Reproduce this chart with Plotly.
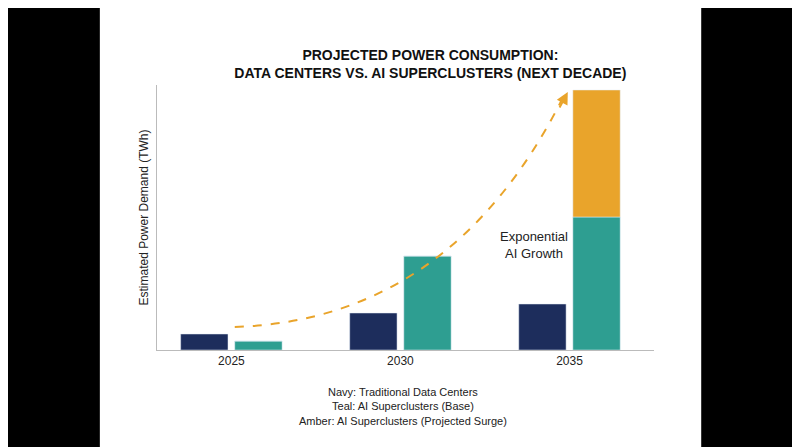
import plotly.graph_objects as go

years = ["2025", "2030", "2035"]
traditional = [16, 37, 46]
ai_base = [9, 94, 133]
ai_surge = [0, 0, 127]

navy = "#1d2d5c"
teal = "#2e9e91"
amber = "#e9a42b"

fig = go.Figure()
fig.add_bar(x=years, y=traditional, marker_color=navy, width=0.28, offset=-0.30,
            name="Traditional Data Centers")
fig.add_bar(x=years, y=ai_base, marker_color=teal, width=0.28, offset=0.02,
            name="AI Superclusters (Base)")
fig.add_bar(x=years, y=ai_surge, base=ai_base, marker_color=amber, width=0.28, offset=0.02,
            name="AI Superclusters (Projected Surge)")

# white page on black background
fig.add_shape(type="rect", xref="paper", yref="paper", x0=-0.115, x1=1.095, y0=-0.45, y1=1.40,
              fillcolor="white", line_width=0, layer="below")

# dashed growth curve
fig.add_shape(type="path", xref="x", yref="y", path="M 0.02,23 Q 1.30,30 1.96,252",
              line=dict(color=amber, width=2, dash="dash"))
fig.add_annotation(x=1.99, y=258, ax=-9, ay=17, showarrow=True, arrowhead=2, arrowsize=1.2,
                   arrowwidth=2, arrowcolor=amber, text="")
fig.add_annotation(x=1.79, y=105, text="Exponential<br>AI Growth", showarrow=False,
                   font=dict(size=13, color="#222"))

fig.add_annotation(xref="paper", yref="paper", x=0.495, y=-0.13, yanchor="top", showarrow=False,
                   text="Navy: Traditional Data Centers<br>Teal: AI Superclusters (Base)<br>Amber: AI Superclusters (Projected Surge)",
                   font=dict(size=11, color="#222"))

fig.update_layout(
    width=800, height=447,
    paper_bgcolor="black", plot_bgcolor="white",
    margin=dict(l=149, r=154, t=77, b=105),
    barmode="overlay", showlegend=False,
    font=dict(family="Liberation Sans, Arial", color="#222"),
    title=dict(text="<b>PROJECTED POWER CONSUMPTION:<br>DATA CENTERS VS. AI SUPERCLUSTERS (NEXT DECADE)</b>",
               x=0.55, xref="paper", xanchor="center", y=1 - 52 / 447, yanchor="middle",
               font=dict(size=14, color="#111")),
    xaxis=dict(type="category", range=[-0.44, 2.5], showline=True, linecolor="#bbb",
               ticks="", tickfont=dict(size=12), showgrid=False),
    yaxis=dict(range=[0, 265], showline=True, linecolor="#bbb", showticklabels=False,
               showgrid=False, zeroline=False, ticks="",
               title=dict(text="Estimated Power Demand (TWh)", font=dict(size=12), standoff=4)),
)

fig.write_html("out.html")
